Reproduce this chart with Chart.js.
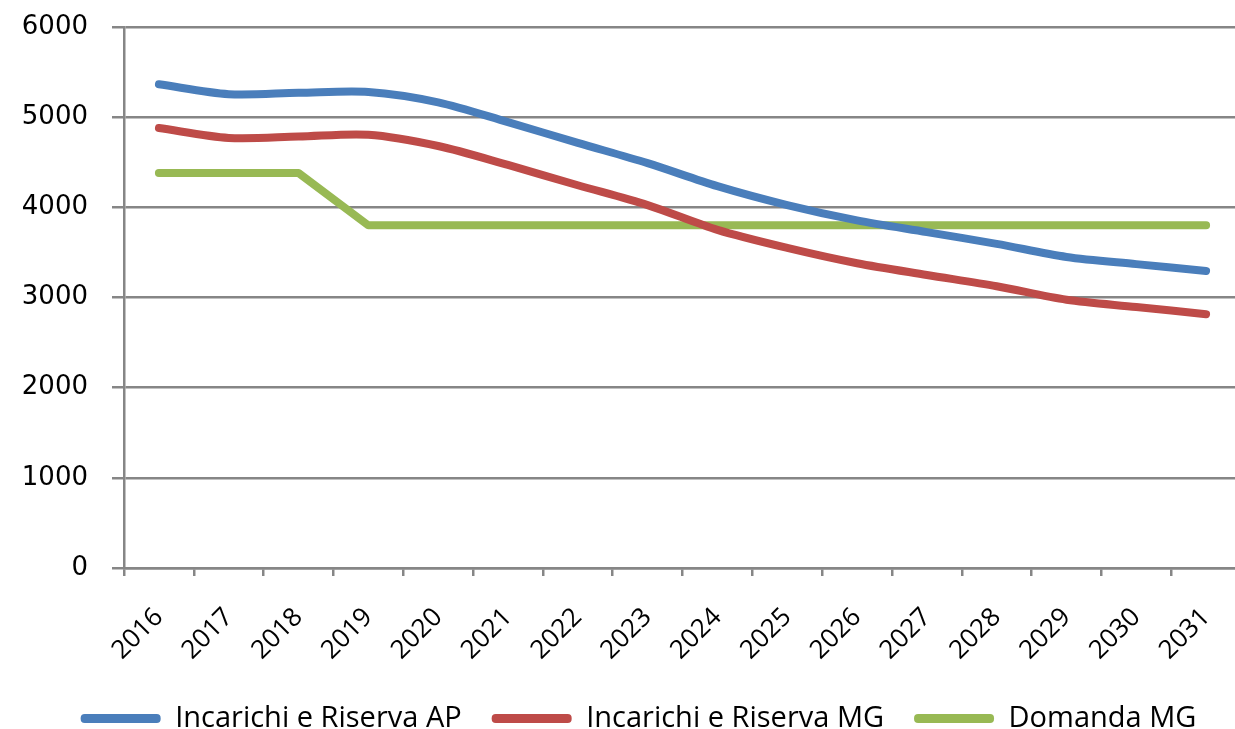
<!DOCTYPE html>
<html>
<head>
<meta charset="utf-8">
<script src="https://cdn.jsdelivr.net/npm/chart.js@4/dist/chart.umd.min.js"></script>
<style>
  html, body { margin: 0; padding: 0; background: #ffffff; overflow: hidden; }
  #wrap { position: relative; width: 1241px; height: 743px; }
</style>
</head>
<body>
<div id="wrap"><canvas id="chart"></canvas></div>
<script>
// Years on the horizontal axis
const years = ['2016','2017','2018','2019','2020','2021','2022','2023',
               '2024','2025','2026','2027','2028','2029','2030','2031'];

// Series values
const incarichiAP = [5365, 5255, 5270, 5280, 5165, 4945, 4715, 4490,
                     4235, 4025, 3855, 3725, 3595, 3450, 3370, 3295];
const incarichiMG = [4880, 4770, 4785, 4805, 4680, 4470, 4245, 4025,
                     3750, 3550, 3380, 3250, 3125, 2975, 2895, 2815];
const domandaMG   = [4380, 4380, 4380, 3800, 3800, 3800, 3800, 3800,
                     3800, 3800, 3800, 3800, 3800, 3800, 3800, 3800];

// Y-axis range and step
const yMin = 0, yMax = 6000, yStep = 1000;

const seriesNames = ['Incarichi e Riserva AP', 'Incarichi e Riserva MG', 'Domanda MG'];
const seriesColors = ['#4a7ebb', '#be4b48', '#98b954'];

const axisGrey = '#868686';
const canvasH = 743;      // canvas height (window shows the top 729 px)
const plotTop = 27;       // y of the top gridline
const plotBottom = 568;   // y of the x axis line
const plotLeft = 124;     // x of the y axis line
const legendShift = 36;   // legend is centred a bit right of the canvas middle

// Nudge the legend block so its items sit under the plot area
const legendOffset = {
  id: 'legendOffset',
  afterLayout(chart) {
    if (chart.legend) chart.legend.left = legendShift;
  }
};

new Chart(document.getElementById('chart'), {
  type: 'line',
  data: {
    labels: years,
    datasets: [
      { label: seriesNames[0], data: incarichiAP, borderColor: seriesColors[0], backgroundColor: seriesColors[0], tension: 0.3 },
      { label: seriesNames[1], data: incarichiMG, borderColor: seriesColors[1], backgroundColor: seriesColors[1], tension: 0.3 },
      { label: seriesNames[2], data: domandaMG,   borderColor: seriesColors[2], backgroundColor: seriesColors[2], tension: 0 }
    ]
  },
  plugins: [legendOffset],
  options: {
    responsive: true,
    maintainAspectRatio: false,
    animation: false,
    layout: { padding: { left: 0, right: 0, top: plotTop, bottom: 0 } },
    elements: {
      line: { borderWidth: 8, borderCapStyle: 'round', borderJoinStyle: 'round' },
      point: { radius: 0, hoverRadius: 0 }
    },
    plugins: {
      tooltip: { enabled: false },
      legend: {
        position: 'bottom',
        labels: {
          boxWidth: 80,
          boxHeight: 9,
          padding: 30,
          color: '#000000',
          font: { family: '"Open Sans", "Noto Sans", sans-serif', size: 29 },
          useBorderRadius: true,
          borderRadius: 4,
          generateLabels: (chart) => chart.data.datasets.map((ds, i) => ({
            text: ds.label,
            fillStyle: ds.borderColor,
            strokeStyle: ds.borderColor,
            lineWidth: 0,
            hidden: false,
            datasetIndex: i,
            borderRadius: 4
          }))
        }
      }
    },
    scales: {
      x: {
        offset: true,
        grid: {
          display: true,
          offset: true,
          drawOnChartArea: false,
          drawTicks: true,
          tickLength: 8,
          color: axisGrey,
          lineWidth: 2.5
        },
        border: { display: true, color: axisGrey, width: 2.5 },
        ticks: {
          minRotation: 45,
          maxRotation: 45,
          autoSkip: false,
          padding: 26,
          color: '#000000',
          font: { family: '"Open Sans", "Noto Sans", sans-serif', size: 26 }
        },
        afterFit: (scale) => {
          const lg = scale.chart.legend;
          const lh = lg && lg.height ? lg.height : 69;
          scale.height = Math.max(0, canvasH - plotBottom - lh);
          scale.paddingLeft = 0;
          scale.paddingRight = 0;
        }
      },
      y: {
        min: yMin,
        max: yMax,
        grid: {
          color: axisGrey,
          lineWidth: 2.5,
          drawTicks: true,
          tickLength: 12
        },
        border: { display: true, color: axisGrey, width: 2.5 },
        ticks: {
          stepSize: yStep,
          padding: 24,
          color: '#000000',
          font: { family: '"DejaVu Sans", sans-serif', size: 26 },
          callback: (value) => String(value)
        },
        afterFit: (scale) => {
          scale.width = plotLeft;
          scale.paddingTop = 0;
          scale.paddingBottom = 0;
        }
      }
    }
  }
});
</script>
</body>
</html>
